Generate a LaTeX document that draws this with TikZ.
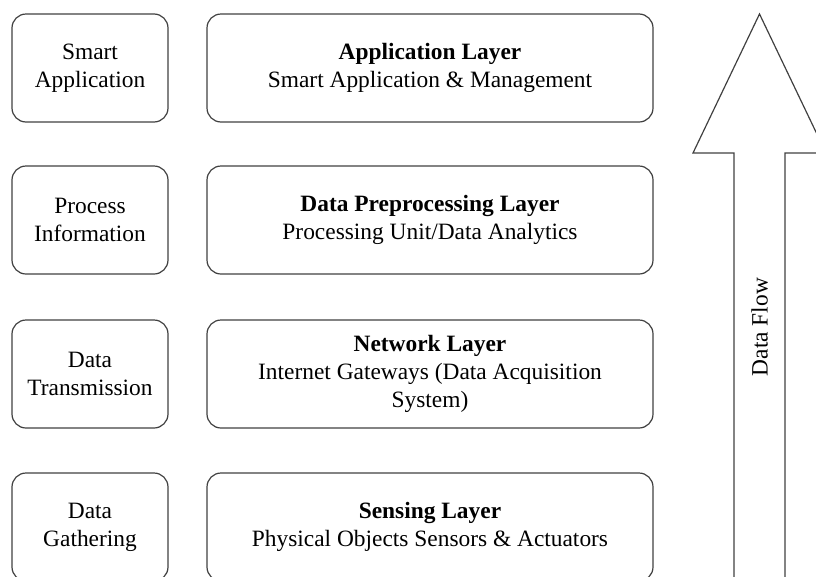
\documentclass[tikz,border=0pt]{standalone}
\usepackage{fontspec}
\setmainfont{Liberation Serif}
\begin{document}
\begin{tikzpicture}[x=1pt,y=-1pt,
  line/.style={draw=black!75,line width=1.2pt},
  box/.style={line,rounded corners=14pt,minimum height=108pt,inner sep=0pt,
    align=center,font=\fontsize{23.4}{28}\selectfont},
  rolebox/.style={box,minimum width=156pt},
  layerbox/.style={box,minimum width=446pt}]
\useasboundingbox (0,0) rectangle (816,576);
\clip (0,0) rectangle (816,576);

% role of each layer (left column)
\node[rolebox] (r1) at (90,68)  {Smart\\Application};
\node[rolebox] (r2) at (90,220) {Process\\Information};
\node[rolebox] (r3) at (90,374) {Data\\Transmission};
\node[rolebox] (r4) at (90,527) {Data\\Gathering};

% layers of the architecture (right column)
\node[layerbox] (l1) at (430,68)  {\textbf{Application Layer}\\Smart Application \& Management};
\node[layerbox] (l2) at (430,220) {\textbf{Data Preprocessing Layer}\\Processing Unit/Data Analytics};
\node[layerbox] (l3) at (430,374) {\textbf{Network Layer}\\Internet Gateways (Data Acquisition\\System)};
\node[layerbox] (l4) at (430,527) {\textbf{Sensing Layer}\\Physical Objects Sensors \& Actuators};

% large upward block arrow for the data flow
\coordinate (tip) at (759.5,14);
\draw[line,line join=miter]
  (tip) -- (693,153) -- (734,153) -- (734,600) -- (785,600)
  -- (785,153) -- (826,153) -- cycle;
\node[rotate=90,font=\fontsize{23.4}{28}\selectfont] (flow) at (759.5,327) {Data Flow};
\end{tikzpicture}
\end{document}
